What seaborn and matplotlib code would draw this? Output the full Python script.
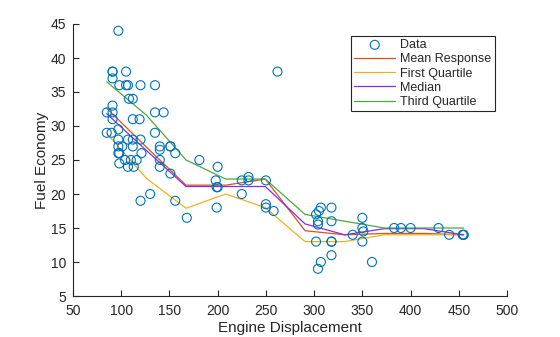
import matplotlib
matplotlib.use("Agg")
import matplotlib.pyplot as plt
import seaborn as sns
import pandas as pd

# Engine displacement (cu. in.) and fuel economy (mpg), model years 1970 / 1976 / 1982
disp_70 = [307, 350, 318, 304, 302, 429, 454, 440, 455, 390, 383, 340, 400, 455,
           113, 198, 199, 200, 97, 97, 110, 107, 104, 121, 199, 360, 307, 318, 304]
mpg_70 = [18, 15, 18, 16, 17, 15, 14, 14, 14, 15, 15, 14, 15, 14,
          24, 22, 18, 21, 27, 26, 25, 24, 25, 26, 21, 10, 10, 11, 9]

disp_76 = [107, 116, 140, 98, 101, 305, 318, 304, 351, 225, 250, 200, 232, 85, 98, 90, 91,
           225, 250, 250, 258, 97, 85, 97, 140, 130, 318, 120, 156, 168, 350, 350, 302, 318]
mpg_76 = [28, 25, 25, 26, 27, 17.5, 16, 15.5, 14.5, 22, 22, 24, 22.5, 29, 24.5, 29, 33,
          20, 18, 18.5, 17.5, 29.5, 32, 28, 26.5, 20, 13, 19, 19, 16.5, 16.5, 13, 13, 13]

disp_82 = [112, 112, 112, 112, 135, 151, 140, 151, 105, 91, 91, 105, 98, 120, 107, 108,
           91, 91, 91, 181, 262, 156, 232, 144, 135, 151, 140, 97, 135, 120, 119]
mpg_82 = [28, 27, 34, 31, 29, 27, 24, 23, 36, 37, 31, 38, 36, 36, 36, 34,
          38, 32, 38, 25, 38, 26, 22, 32, 36, 27, 27, 44, 32, 28, 31]

# Prediction grid and forest responses at each grid point
pred_x = [85, 126.1, 167.2, 208.3, 249.4, 290.6, 331.7, 372.8, 413.9, 455]
mean_resp = [32.6, 26.9, 21.3, 21.3, 22.2, 14.6, 14.0, 14.2, 14.2, 14.0]
first_quartile = [28.9, 22.3, 17.9, 20.0, 18.0, 13.0, 13.0, 14.0, 14.0, 14.0]
median_resp = [31.8, 26.4, 21.1, 21.1, 21.1, 15.6, 14.0, 14.9, 14.9, 14.0]
third_quartile = [36.5, 31.6, 25.0, 22.2, 22.2, 17.0, 16.0, 15.0, 15.0, 15.0]

x_ticks = [50, 100, 150, 200, 250, 300, 350, 400, 450, 500]
y_ticks = [5, 10, 15, 20, 25, 30, 35, 40, 45]

data = pd.DataFrame({
    "Displacement": disp_70 + disp_76 + disp_82,
    "MPG": mpg_70 + mpg_76 + mpg_82,
})
pred = pd.DataFrame({
    "x": pred_x,
    "Mean Response": mean_resp,
    "First Quartile": first_quartile,
    "Median": median_resp,
    "Third Quartile": third_quartile,
})

sns.set_theme(style="white")
plt.rcParams["font.family"] = ["Liberation Sans", "DejaVu Sans"]

fig = plt.figure(figsize=(5.6, 3.37), dpi=100)
ax = fig.add_axes([73 / 560, 41 / 337, 434 / 560, 272 / 337])

sns.scatterplot(data=data, x="Displacement", y="MPG", ax=ax, marker="o",
                s=42, facecolors="none", edgecolor="#0072BD", linewidth=0.8,
                label="Data", zorder=3)

line_colors = {
    "Mean Response": "#D95319",
    "First Quartile": "#EDB120",
    "Median": "#8A2BE2",
    "Third Quartile": "#4DA83F",
}
for name, col in line_colors.items():
    sns.lineplot(data=pred, x="x", y=name, ax=ax, color=col, linewidth=0.9,
                 label=name, zorder=2)

ax.set_xlim(50, 500)
ax.set_ylim(5, 45)
ax.set_xticks(x_ticks)
ax.set_yticks(y_ticks)
ax.set_xlabel("Engine Displacement", fontsize=11, color="#262626", labelpad=2)
ax.set_ylabel("Fuel Economy", fontsize=11, color="#262626", labelpad=1)

for side in ("top", "right"):
    ax.spines[side].set_visible(False)
for side in ("left", "bottom"):
    ax.spines[side].set_color("#262626")
    ax.spines[side].set_linewidth(0.8)
ax.tick_params(axis="both", direction="in", length=4, width=0.8, colors="#262626",
               labelsize=10, left=True, bottom=True)
ax.tick_params(axis="x", pad=6)
ax.tick_params(axis="y", pad=5)

leg = ax.legend(loc="upper left", bbox_to_anchor=(0.6406, 0.956), borderaxespad=0,
                fontsize=9, frameon=True, fancybox=False, framealpha=1,
                edgecolor="#262626", handlelength=3.3, handletextpad=0.4,
                labelspacing=0.18, borderpad=0.25)
leg.get_frame().set_linewidth(0.8)

fig.savefig("out.png", dpi=100)
